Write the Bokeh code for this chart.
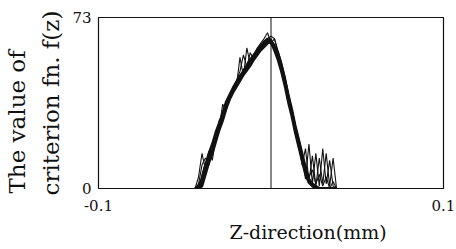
from bokeh.plotting import figure
from bokeh.models import Span, FixedTicker, Title
from bokeh.embed import file_html
from bokeh.resources import INLINE

# z positions (mm)
z = [-0.044, -0.042, -0.040, -0.038, -0.036, -0.034, -0.032, -0.030, -0.028, -0.026,
     -0.024, -0.022, -0.020, -0.018, -0.016, -0.014, -0.012, -0.010, -0.008, -0.006,
     -0.004, -0.002, 0.000, 0.002, 0.004, 0.006, 0.008, 0.010, 0.012, 0.014,
     0.016, 0.018, 0.020, 0.022, 0.024, 0.026, 0.028, 0.030, 0.032, 0.034,
     0.036, 0.038]

run1 = [0, 0, 3, 9, 13.5, 18, 22.5, 27, 31, 36, 39, 42, 44.5, 47, 49, 51, 53.5, 56, 58, 60,
        61.5, 63, 62, 60, 57, 52, 46, 39, 33, 26, 20.5, 14, 8, 3.5, 1.5, 0.5, 0, 0, 0, 0, 0, 0]
run2 = [0, 5, 15, 8, 16, 12, 22, 26, 36, 33, 40, 43, 44, 56, 48, 60, 53, 57, 60, 62,
        64, 66.5, 62, 64, 58, 53, 47, 40, 34, 27, 19, 15, 4, 19, 2, 15, 1, 17, 2, 12, 1, 0]
run3 = [0, 2, 10, 13, 11, 19, 21, 29, 32, 37, 38, 43, 46, 50, 57, 52, 58, 55, 59, 61,
        63, 64, 65, 64, 59, 54, 48, 41, 34, 27, 21, 10, 17, 3, 14, 1, 13, 2, 15, 1, 13, 0]
run4 = [0, 0, 1, 6, 11, 15, 20, 25, 29, 34, 38, 41, 43.5, 46, 48.5, 50.5, 52.5, 55, 57, 59,
        60.5, 62, 63, 61, 58, 53, 47, 40, 34, 27, 21, 15, 9, 4, 2, 1, 0, 0, 0, 0, 0, 0]
run5 = [0, 1, 4, 10, 15, 19, 24, 28, 32, 37, 40, 43, 45.5, 48, 50, 52.5, 55, 57, 59, 61,
        62.5, 64, 62.5, 59, 55, 50, 44, 37, 31, 24, 18, 12, 6, 2.5, 1, 0, 0, 0, 0, 0, 0, 0]
run6 = [0, 0, 6, 11, 10, 17, 23, 26, 33, 35, 40, 41, 46, 47, 51, 50, 55, 56, 59, 60,
        63, 62, 64, 61, 57, 52, 46, 39, 32, 25, 19, 12, 9, 5, 8, 2, 6, 1, 5, 0, 3, 0]

x_ticks = [-0.1, 0.1]
x_tick_labels = {-0.1: "-0.1", 0.1: "0.1"}
y_ticks = [0, 73]
y_tick_labels = {0: "0", 73: "73"}
x_title = "Z-direction(mm)"
y_title_lines = ["The value of", "criterion fn. f(z)"]

FONT = "DejaVu Serif"
INK = "#111111"

p = figure(width=456, height=249,
           min_border_left=92, min_border_right=13, min_border_top=17, min_border_bottom=61,
           x_range=(-0.1, 0.1), y_range=(0, 73),
           output_backend="svg", toolbar_location=None)
p.xgrid.visible = False
p.ygrid.visible = False
p.outline_line_color = INK
p.outline_line_width = 1.2
p.background_fill_color = "white"
p.border_fill_color = "white"

for ax, ticks, labels, standoff in ((p.xaxis, x_ticks, x_tick_labels, 11),
                                    (p.yaxis, y_ticks, y_tick_labels, 7)):
    ax.ticker = FixedTicker(ticks=ticks)
    ax.major_label_overrides = labels
    ax.major_tick_out = 0
    ax.major_tick_in = 0
    ax.minor_tick_out = 0
    ax.minor_tick_in = 0
    ax.axis_line_color = None
    ax.major_label_text_font = FONT
    ax.major_label_text_font_size = "15px"
    ax.major_label_text_color = INK
    ax.major_label_standoff = standoff

p.add_layout(Span(location=0, dimension="height", line_color=INK, line_width=1))

for vals, lw in ((run1, 2.6), (run4, 2.6), (run5, 2.6), (run2, 1.1), (run3, 1.1), (run6, 1.1)):
    p.line(z, vals, line_color="#121212", line_width=lw)

# axis titles
p.add_layout(Title(text=x_title, align="left", offset=131, standoff=11,
                   text_font=FONT, text_font_size="19px", text_font_style="normal",
                   text_color=INK), "below")
p.add_layout(Title(text=y_title_lines[1], align="left", offset=-7, standoff=11,
                   text_font=FONT, text_font_size="23px", text_font_style="normal",
                   text_color=INK), "left")
p.add_layout(Title(text=y_title_lines[0], align="left", offset=-5, standoff=2,
                   text_font=FONT, text_font_size="23px", text_font_style="normal",
                   text_color=INK), "left")

open("out.html", "w").write(file_html(p, INLINE))
